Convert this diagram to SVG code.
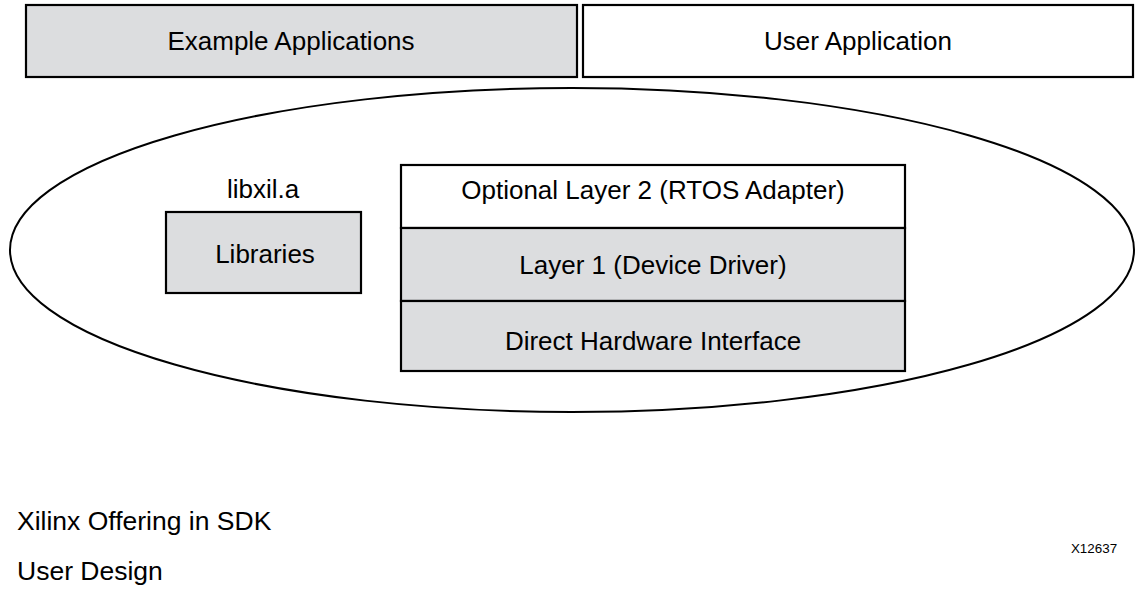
<svg xmlns="http://www.w3.org/2000/svg" width="1136" height="595" viewBox="0 0 1136 595">
<style>
text{font-family:"Liberation Sans",Arial,sans-serif;fill:#000;text-anchor:middle}
.box{stroke:#000;stroke-width:2.2}
.g{fill:#dcdddf}
.w{fill:#fff}
.lbl{font-size:26px}
.leg{text-anchor:start;font-size:26.5px}
</style>
<rect width="1136" height="595" fill="#fff"/>
<g id="example-applications">
<rect class="box g" x="26" y="5" width="551" height="72"/>
<text class="lbl" x="291" y="50">Example Applications</text>
</g>
<g id="user-application">
<rect class="box w" x="583" y="5" width="550" height="72"/>
<text class="lbl" x="858" y="50">User Application</text>
</g>
<g id="xilinx-offering">
<ellipse cx="572" cy="250" rx="562" ry="162" fill="none" stroke="#000" stroke-width="2"/>
</g>
<g id="libraries">
<text class="lbl" x="263" y="198">libxil.a</text>
<rect class="box g" x="166" y="212" width="195" height="81"/>
<text class="lbl" x="265" y="263">Libraries</text>
</g>
<g id="layer2">
<rect class="box w" x="401" y="165" width="504" height="63"/>
<text class="lbl" x="653" y="199">Optional Layer 2 (RTOS Adapter)</text>
</g>
<g id="layer1">
<rect class="box g" x="401" y="228" width="504" height="73"/>
<text class="lbl" x="653" y="274">Layer 1 (Device Driver)</text>
</g>
<g id="hw-interface">
<rect class="box g" x="401" y="301" width="504" height="70"/>
<text class="lbl" x="653" y="350">Direct Hardware Interface</text>
</g>
<g id="connectors"></g>
<g id="legend">
<text class="leg" x="17" y="530">Xilinx Offering in SDK</text>
<text class="leg" x="17" y="580">User Design</text>
<text x="1094" y="553" style="font-size:13.4px">X12637</text>
</g>
</svg>
